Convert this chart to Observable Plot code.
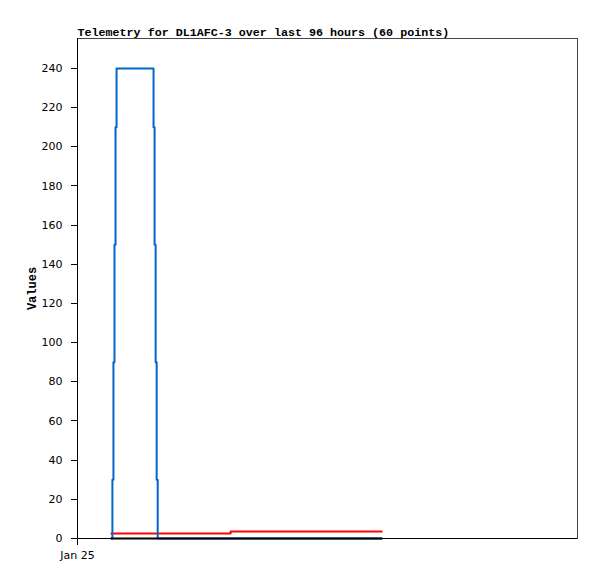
<!DOCTYPE html>
<html><head><meta charset="utf-8">
<script src="https://cdn.jsdelivr.net/npm/d3@7"></script>
<script src="https://cdn.jsdelivr.net/npm/@observablehq/plot@0.6"></script>
<style>body{margin:0;background:#fff}</style></head>
<body><div id="chart"></div>
<script>
const title = "Telemetry for DL1AFC-3 over last 96 hours (60 points)";
const yLabel = "Values";
// hours after Jan 25 00:00 for each of the 60 points
const hours = [6.5, 6.7, 6.9, 7.1, 7.3, 7.5, 8.5, 9.5, 10.5, 11.5, 12.5, 13.5, 14.4, 14.6, 14.8, 15.0, 15.2, 15.4,
  16.5, 17.5, 18.5, 19.5, 20.5, 21.5, 22.5, 23.5, 24.5, 25.5, 26.5, 27.5, 28.9, 29.4,
  30.5, 31.5, 32.5, 33.5, 34.5, 35.5, 36.5, 37.5, 38.5, 39.5, 40.5, 41.5, 42.5, 43.5, 44.5, 45.5,
  46.5, 47.5, 48.5, 49.5, 50.5, 51.5, 52.5, 53.5, 54.5, 55.5, 56.5, 58.4];
const blueValues = [0, 30, 90, 150, 210, 240, 240, 240, 240, 240, 240, 240, 240, 210, 150, 90, 30, 0,
  0, 0, 0, 0, 0, 0, 0, 0, 0, 0, 0, 0, 0, 0,
  0, 0, 0, 0, 0, 0, 0, 0, 0, 0, 0, 0, 0, 0, 0, 0,
  0, 0, 0, 0, 0, 0, 0, 0, 0, 0, 0, 0];
const redValues = [2.6, 2.6, 2.6, 2.6, 2.6, 2.6, 2.6, 2.6, 2.6, 2.6, 2.6, 2.6, 2.6, 2.6, 2.6, 2.6, 2.6, 2.6,
  2.6, 2.6, 2.6, 2.6, 2.6, 2.6, 2.6, 2.6, 2.6, 2.6, 2.6, 2.6, 2.6, 3.6,
  3.6, 3.6, 3.6, 3.6, 3.6, 3.6, 3.6, 3.6, 3.6, 3.6, 3.6, 3.6, 3.6, 3.6, 3.6, 3.6,
  3.6, 3.6, 3.6, 3.6, 3.6, 3.6, 3.6, 3.6, 3.6, 3.6, 3.6, 3.6];
const blackValues = [0, 0, 0, 0, 0, 0, 0, 0, 0, 0, 0, 0, 0, 0, 0, 0, 0, 0,
  0, 0, 0, 0, 0, 0, 0, 0, 0, 0, 0, 0, 0, 0,
  0, 0, 0, 0, 0, 0, 0, 0, 0, 0, 0, 0, 0, 0, 0, 0,
  0, 0, 0, 0, 0, 0, 0, 0, 0, 0, 0, 0];
const yTicks = [0, 20, 40, 60, 80, 100, 120, 140, 160, 180, 200, 220, 240];
const xTickLabels = ["Jan 25"];

const start = Date.UTC(2024, 0, 25);
const rows = hours.map((h, i) => ({
  t: new Date(start + h * 3600e3),
  blue: blueValues[i], red: redValues[i], black: blackValues[i]
}));
const xTicks = [new Date(start)];
const mono = "'Liberation Mono', 'DejaVu Sans Mono', monospace";

const chart = Plot.plot({
  width: 597, height: 579,
  marginTop: 38, marginLeft: 77, marginRight: 20, marginBottom: 41,
  style: {fontFamily: "'DejaVu Sans', sans-serif", fontSize: "11px", background: "#fff", overflow: "visible"},
  x: {type: "utc", domain: [new Date(start), new Date(start + 96 * 3600e3)]},
  y: {domain: [0, 255.3]},
  marks: [
    Plot.frame({stroke: "#444", shapeRendering: "crispEdges"}),
    Plot.ruleY([0], {stroke: "#000", shapeRendering: "crispEdges"}),
    Plot.ruleX(xTicks, {stroke: "#000", shapeRendering: "crispEdges"}),
    Plot.axisY(yTicks, {tickSize: 6, tickPadding: 9, label: null, shapeRendering: "crispEdges"}),
    Plot.axisX(xTicks, {tickSize: 7, tickPadding: 6, label: null, tickFormat: (d, i) => xTickLabels[i], shapeRendering: "crispEdges"}),
    Plot.lineY(rows, {x: "t", y: "red", stroke: "#ff0000", strokeWidth: 2, curve: "step-after"}),
    Plot.lineY(rows, {x: "t", y: "blue", stroke: "#0066cc", strokeWidth: 2, curve: "step-after"}),
    Plot.lineY(rows, {x: "t", y: "black", stroke: "#000", strokeWidth: 2, curve: "step-after"}),
    Plot.text([title], {frameAnchor: "top-left", textAnchor: "start", lineAnchor: "bottom", dy: -3,
      fontFamily: mono, fontWeight: "bold", fontSize: 11.7, fill: "#000"}),
    Plot.text([yLabel], {frameAnchor: "left", textAnchor: "middle", lineAnchor: "middle", rotate: -90, dx: -45,
      fontFamily: mono, fontWeight: "bold", fontSize: 12, fill: "#000"})
  ]
});
document.getElementById("chart").appendChild(chart);
</script>
</body></html>
